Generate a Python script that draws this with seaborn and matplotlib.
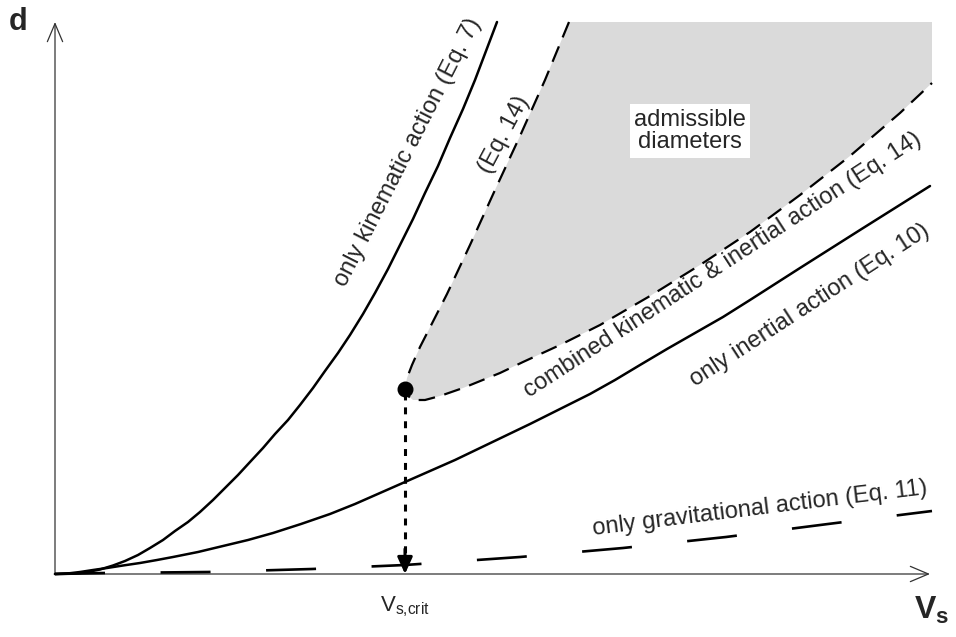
import numpy as np
import pandas as pd
import seaborn as sns
import matplotlib.pyplot as plt

# settling velocity Vs (x) vs. diameter d (y), arbitrary units
KIN_VS = [0, .15, .25, .35, .45, .58, .70, .83, .95, 1.08, 1.20, 1.33, 1.45, 1.58, 1.70, 1.83, 1.95,
          2.08, 2.20, 2.33, 2.45, 2.58, 2.70, 2.83, 2.95, 3.08, 3.20, 3.33, 3.45, 3.58, 3.70, 3.83,
          3.95, 4.08, 4.20, 4.31, 4.42]
KIN_D = [0, .003, .01, .025, .045, .085, .13, .19, .26, .34, .43, .52, .62, .74, .86, .99, 1.12,
         1.26, 1.40, 1.54, 1.69, 1.86, 2.03, 2.21, 2.39, 2.60, 2.81, 3.05, 3.29, 3.55, 3.81, 4.08,
         4.36, 4.65, 4.94, 5.23, 5.52]

INE_VS = [0, .15, .25, .38, .52, .68, .85, 1.02, 1.18, 1.43, 1.68, 1.93, 2.18, 2.46, 2.75, 3.00,
          3.25, 3.50, 3.75, 4.00, 4.25, 4.50, 4.75, 5.05, 5.35, 5.60, 5.85, 6.12, 6.40, 6.68,
          6.95, 7.20, 7.45, 7.75, 8.05, 8.40, 8.75]
INE_D = [0, .008, .02, .04, .06, .085, .11, .14, .17, .22, .28, .34, .41, .50, .60, .70, .81, .92,
         1.03, 1.14, 1.26, 1.38, 1.50, 1.65, 1.80, 1.94, 2.09, 2.25, 2.41, 2.57, 2.74, 2.90, 3.06,
         3.25, 3.44, 3.66, 3.88]

# combined (Eq. 14): upper branch (top -> critical point) then lower branch
COMB_VS = [5.14, 4.90, 4.65, 4.40, 4.15, 3.92, 3.65, 3.57, 3.52, 3.50, 3.52, 3.58, 3.70, 3.85,
           4.08, 4.45, 4.68, 5.05, 5.45, 5.95, 6.45, 6.95, 7.45, 7.95, 8.45, 8.77]
COMB_D = [5.52, 4.94, 4.38, 3.84, 3.29, 2.80, 2.27, 2.09, 1.96, 1.85, 1.79, 1.74, 1.74, 1.78,
          1.86, 2.01, 2.12, 2.29, 2.49, 2.78, 3.09, 3.42, 3.79, 4.18, 4.61, 4.91]

GRAV_VS = [0, .50, 1.53, 2.57, 3.50, 4.65, 5.68, 6.71, 7.73, 8.77]
GRAV_D = [0, .01, .02, .05, .09, .17, .26, .37, .50, .63]

VS_CRIT = 3.50
D_CRIT = 1.85
VS_MAX = 8.77
D_MAX = 5.52

sns.set_style("white")
plt.rcParams["font.family"] = ["Liberation Sans", "DejaVu Sans"]
plt.rcParams["mathtext.fontset"] = "custom"
plt.rcParams["mathtext.rm"] = "Liberation Sans"
plt.rcParams["mathtext.bf"] = "Liberation Sans:bold"
plt.rcParams["lines.scale_dashes"] = False

fig = plt.figure(figsize=(9.56, 6.37), dpi=100)
ax = fig.add_axes([0, 0, 1, 1])
ax.set_xlim(-0.55, 9.01)
ax.set_ylim(-0.63, 5.74)
ax.axis("off")

# admissible region
ax.fill(COMB_VS + [VS_MAX], COMB_D + [D_MAX], color="#dadada", lw=0, zorder=1)

df_kin = pd.DataFrame({"vs": KIN_VS, "d": KIN_D})
df_ine = pd.DataFrame({"vs": INE_VS, "d": INE_D})
df_comb = pd.DataFrame({"vs": COMB_VS, "d": COMB_D})
df_grav = pd.DataFrame({"vs": GRAV_VS, "d": GRAV_D})

sns.lineplot(data=df_kin, x="vs", y="d", sort=False, estimator=None, color="black", lw=1.8, ax=ax, zorder=3)
sns.lineplot(data=df_ine, x="vs", y="d", sort=False, estimator=None, color="black", lw=1.8, ax=ax, zorder=3)
sns.lineplot(data=df_comb, x="vs", y="d", sort=False, estimator=None, color="black", lw=1.6,
             ax=ax, zorder=3).lines[-1].set_dashes((12, 7))
sns.lineplot(data=df_grav, x="vs", y="d", sort=False, estimator=None, color="black", lw=1.9,
             ax=ax, zorder=3).lines[-1].set_dashes((36, 40))

# axes with open arrowheads
axis_kw = dict(arrowstyle="->, head_length=1.3, head_width=0.55", color="#333333", lw=0.9, shrinkA=0, shrinkB=0)
ax.annotate("", xy=(VS_MAX - 0.02, 0), xytext=(0, 0), arrowprops=axis_kw, zorder=2)
ax.annotate("", xy=(0, D_MAX), xytext=(0, 0), arrowprops=axis_kw, zorder=2)

# critical point and dotted drop line
ax.plot([VS_CRIT, VS_CRIT], [D_CRIT - 0.04, 0.14], color="black", lw=2.2, dashes=(5, 5), zorder=4)
ax.annotate("", xy=(VS_CRIT, 0), xytext=(VS_CRIT, 0.25),
            arrowprops=dict(arrowstyle="-|>, head_length=1.0, head_width=0.45", color="black", lw=2.2,
                            shrinkA=0, shrinkB=0), zorder=4)
ax.scatter([VS_CRIT], [D_CRIT], s=110, color="black", zorder=5)

# labels
fs = 17
txt = dict(fontsize=fs, ha="center", va="center", rotation_mode="anchor")
ax.text(3.53, 4.22, "only kinematic action (Eq. 7)", rotation=63, **txt)
ax.text(4.49, 4.39, "(Eq. 14)", rotation=62, **txt)
ax.text(6.68, 3.09, "combined kinematic & inertial action (Eq. 14)", rotation=33, **txt)
ax.text(7.55, 2.69, "only inertial action (Eq. 10)", rotation=33, **txt)
ax.text(7.05, 0.65, "only gravitational action (Eq. 11)", rotation=7, **txt)
ax.text(6.35, 4.43, "admissible\ndiameters", fontsize=fs, ha="center", va="center", linespacing=1.05,
        bbox=dict(facecolor="white", edgecolor="none", pad=3), zorder=6)
ax.text(VS_CRIT, -0.33, r"V$_\mathregular{s{,}crit}$", fontsize=16, ha="center", va="center")
ax.text(8.77, -0.36, r"$\mathbf{V_s}$", fontsize=23, ha="center", va="center")
ax.text(-0.37, 5.52, "d", fontsize=22, fontweight="bold", ha="center", va="center")

fig.savefig("out.png", dpi=100)
